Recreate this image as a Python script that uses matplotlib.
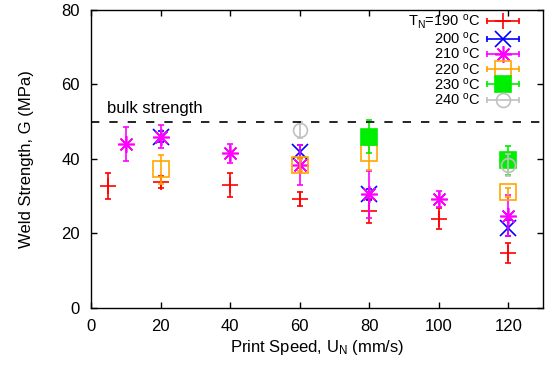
import matplotlib.pyplot as plt
from matplotlib.lines import Line2D
from matplotlib.legend_handler import HandlerLine2D, HandlerTuple

plt.rcParams['font.family'] = ['Liberation Sans', 'DejaVu Sans']
plt.rcParams['mathtext.fontset'] = 'custom'
plt.rcParams['mathtext.rm'] = 'Liberation Sans'
plt.rcParams['mathtext.it'] = 'Liberation Sans:italic'

# data: nozzle temperature series, print speed (mm/s), weld strength (MPa), error
labels = [r'T$_\mathrm{N}$=190 $^\mathrm{o}$C', r'200 $^\mathrm{o}$C', r'210 $^\mathrm{o}$C',
          r'220 $^\mathrm{o}$C', r'230 $^\mathrm{o}$C', r'240 $^\mathrm{o}$C']

speed_190 = [5, 20, 40, 60, 80, 100, 120]
g_190 = [32.8, 33.8, 33.0, 29.3, 26.0, 24.0, 14.8]
err_190 = [3.5, 1.7, 3.2, 1.8, 3.2, 2.9, 2.7]

speed_200 = [20, 60, 80, 120]
g_200 = [46.0, 42.0, 30.5, 21.4]
err_200 = [1.5, 1.8, 1.5, 2.1]

speed_210 = [10, 20, 40, 60, 80, 100, 120]
g_210 = [44.0, 46.0, 41.5, 38.4, 30.5, 29.2, 24.7]
err_210 = [4.6, 3.0, 2.6, 5.4, 6.3, 2.2, 5.5]

speed_220 = [20, 60, 80, 120]
g_220 = [37.2, 38.4, 41.7, 31.0]
err_220 = [4.0, 1.5, 4.7, 1.3]

speed_230 = [80, 120]
g_230 = [46.0, 39.7]
err_230 = [4.5, 3.9]

speed_240 = [60, 120]
g_240 = [47.8, 38.4]
err_240 = [2.2, 3.0]

bulk_strength = 50

colors = ['#ff0000', '#0000ff', '#ff00ff', '#ffa500', '#00ee00', '#c0c0c0']
markers = ['+', 'x', (8, 2, 0), 's', 's', 'o']
msizes = [12, 11, 12, 11, 11, 10]
filled = [True, True, True, False, True, False]

series = [(speed_190, g_190, err_190), (speed_200, g_200, err_200),
          (speed_210, g_210, err_210), (speed_220, g_220, err_220),
          (speed_230, g_230, err_230), (speed_240, g_240, err_240)]

fig, ax = plt.subplots(figsize=(5.52, 3.71), dpi=100)
fig.subplots_adjust(left=0.165, right=0.984, bottom=0.170, top=0.973)

handles = []
hmap = {}
for (x, y, e), c, m, ms, f, lab in zip(series, colors, markers, msizes, filled, labels):
    ax.errorbar(x, y, yerr=e, fmt='none', ecolor=c, elinewidth=1.2, capsize=2, capthick=1.2)
    ax.plot(x, y, linestyle='none', marker=m, markersize=ms, color=c,
            markerfacecolor=c if f else 'none', markeredgecolor=c, markeredgewidth=1.2)
    # legend key: horizontal bar with caps plus the point marker
    bar = Line2D([], [], color=c, lw=1.2, marker='|', markersize=5, markeredgewidth=1.2)
    mk = Line2D([], [], linestyle='none', marker=m, markersize=ms, color=c,
                markerfacecolor=c if f else 'none', markeredgecolor=c, markeredgewidth=1.2)
    hmap[bar] = HandlerLine2D(numpoints=2)
    hmap[mk] = HandlerLine2D(numpoints=1)
    handles.append((bar, mk))
hmap[tuple] = HandlerTuple(ndivide=1, pad=0)

ax.axhline(bulk_strength, color='black', linestyle=(0, (5, 6)), lw=1.2)
ax.text(4.6, 51.5, 'bulk strength', fontsize=12, ha='left', va='bottom')

ax.set_xlim(0, 130)
ax.set_ylim(0, 80)
ax.set_xticks([0, 20, 40, 60, 80, 100, 120])
ax.set_yticks([0, 20, 40, 60, 80])
ax.tick_params(direction='in', length=4, width=1, labelsize=12, pad=8,
               top=True, right=True)
for s in ax.spines.values():
    s.set_linewidth(1)
ax.set_xlabel(r'Print Speed, U$_\mathrm{N}$ (mm/s)', fontsize=12, labelpad=3)
ax.set_ylabel('Weld Strength, G (MPa)', fontsize=12, labelpad=20)

ax.legend(handles, labels, handler_map=hmap, loc='upper right',
          bbox_to_anchor=(0.956, 0.99), frameon=False, fontsize=10.5,
          markerfirst=False, handlelength=2.8, labelspacing=-0.05,
          handletextpad=0.15, borderaxespad=0.0, borderpad=0.0)

fig.savefig('out.png', dpi=100)
